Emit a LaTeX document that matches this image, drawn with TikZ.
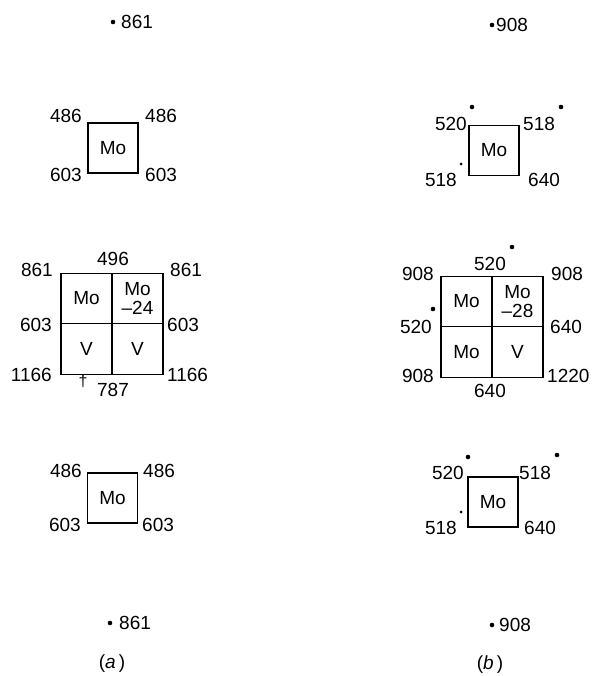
\documentclass[tikz,border=0pt]{standalone}
\usepackage{fontspec}
\setmainfont{Liberation Sans}
\usepackage{tikz}
\usetikzlibrary{positioning}

\newcommand{\numfont}{\fontsize{19}{17}\selectfont}

\begin{document}
\begin{tikzpicture}[
x=1pt, y=-1pt,
every node/.style={font=\numfont},
numlbl/.style={inner sep=0pt},
cellbox/.style={rectangle, draw=black, line width=1.4pt,
minimum width=51pt, minimum height=50.5pt,
inner sep=0pt, outer sep=0pt, align=center,
font=\fontsize{19}{18.5}\selectfont},
sqbox/.style={cellbox, minimum width=50pt, minimum height=50pt},
markdot/.style={circle, fill=black, inner sep=0pt, minimum size=4.6pt},
tinydot/.style={circle, fill=black, inner sep=0pt, minimum size=3pt}
]
\useasboundingbox (0,0) rectangle (596,676);

% ---- (a) ----
\node[markdot] (dA1) at (113,22) {};
\node[numlbl, anchor=west] (nA1) at (121,22) {861};

\node[sqbox] (sqA1) at (113,148) {Mo};
\node[numlbl, anchor=east] (lA1) at (82,116) {486};
\node[numlbl, anchor=west] (lA2) at (145,116) {486};
\node[numlbl, anchor=east] (lA3) at (82,175) {603};
\node[numlbl, anchor=west] (lA4) at (145,175) {603};

\node[cellbox] (cA1) at (86.5,298.5) {Mo};
\node[cellbox, right=0pt of cA1] (cA2) {Mo\\--24};
\node[cellbox, below=0pt of cA1] (cA3) {V};
\node[cellbox, right=0pt of cA3] (cA4) {V};
\node[numlbl] (mA1) at (113,259) {496};
\node[numlbl, anchor=east] (mA2) at (53,270) {861};
\node[numlbl, anchor=west] (mA3) at (170,270) {861};
\node[numlbl, anchor=east] (mA4) at (52,325) {603};
\node[numlbl, anchor=west] (mA5) at (167,325) {603};
\node[numlbl, anchor=east] (mA6) at (52,375) {1166};
\node[numlbl, anchor=west] (mA7) at (167,375) {1166};
\node[numlbl] (mA8) at (113,390) {787};
\node[numlbl, font=\fontsize{16}{16}\selectfont] (mA9) at (83,381) {\textdagger};

\node[sqbox] (sqA3) at (112.5,498) {Mo};
\node[numlbl, anchor=east] (kA1) at (82,471) {486};
\node[numlbl, anchor=west] (kA2) at (143,471) {486};
\node[numlbl, anchor=east] (kA3) at (81,525) {603};
\node[numlbl, anchor=west] (kA4) at (142,525) {603};

\node[markdot] (dA2) at (110,623) {};
\node[numlbl, anchor=west] (nA2) at (119,623) {861};
\node[numlbl] (capA) at (112,664) {(\textit{a}\,)};

% ---- (b) ----
\node[markdot] (dB1) at (492,25) {};
\node[numlbl, anchor=west] (nB1) at (496,25) {908};

\node[sqbox] (sqB1) at (494,150.5) {Mo};
\node[numlbl, anchor=east] (lB1) at (467,124) {520};
\node[markdot] (pB1) at (472,107) {};
\node[numlbl, anchor=west] (lB2) at (523,124) {518};
\node[markdot] (pB2) at (561,107) {};
\node[numlbl, anchor=east] (lB3) at (457,180) {518};
\node[tinydot] (pB3) at (461,164) {};
\node[numlbl, anchor=west] (lB4) at (528,180) {640};

\node[cellbox] (cB1) at (466.5,301.5) {Mo};
\node[cellbox, right=0pt of cB1] (cB2) {Mo\\--28};
\node[cellbox, below=0pt of cB1] (cB3) {Mo};
\node[cellbox, right=0pt of cB3] (cB4) {V};
\node[numlbl] (mB1) at (490,264) {520};
\node[markdot] (qB1) at (512,247) {};
\node[numlbl, anchor=east] (mB2) at (434,274) {908};
\node[numlbl, anchor=west] (mB3) at (551,274) {908};
\node[numlbl, anchor=east] (mB4) at (432,327) {520};
\node[markdot] (qB2) at (433,309) {};
\node[numlbl, anchor=west] (mB5) at (550,327) {640};
\node[numlbl, anchor=east] (mB6) at (434,376) {908};
\node[numlbl, anchor=west] (mB7) at (547,376) {1220};
\node[numlbl] (mB8) at (490,391) {640};

\node[sqbox] (sqB3) at (493,502) {Mo};
\node[numlbl, anchor=east] (kB1) at (464,473) {520};
\node[markdot] (rB1) at (468,457) {};
\node[numlbl, anchor=west] (kB2) at (519,473) {518};
\node[markdot] (rB2) at (557,455) {};
\node[numlbl, anchor=east] (kB3) at (457,528) {518};
\node[tinydot] (rB3) at (461,512) {};
\node[numlbl, anchor=west] (kB4) at (524,528) {640};

\node[markdot] (dB2) at (492,625) {};
\node[numlbl, anchor=west] (nB2) at (499,625) {908};
\node[numlbl] (capB) at (490,665) {(\textit{b}\,)};

\end{tikzpicture}
\end{document}
